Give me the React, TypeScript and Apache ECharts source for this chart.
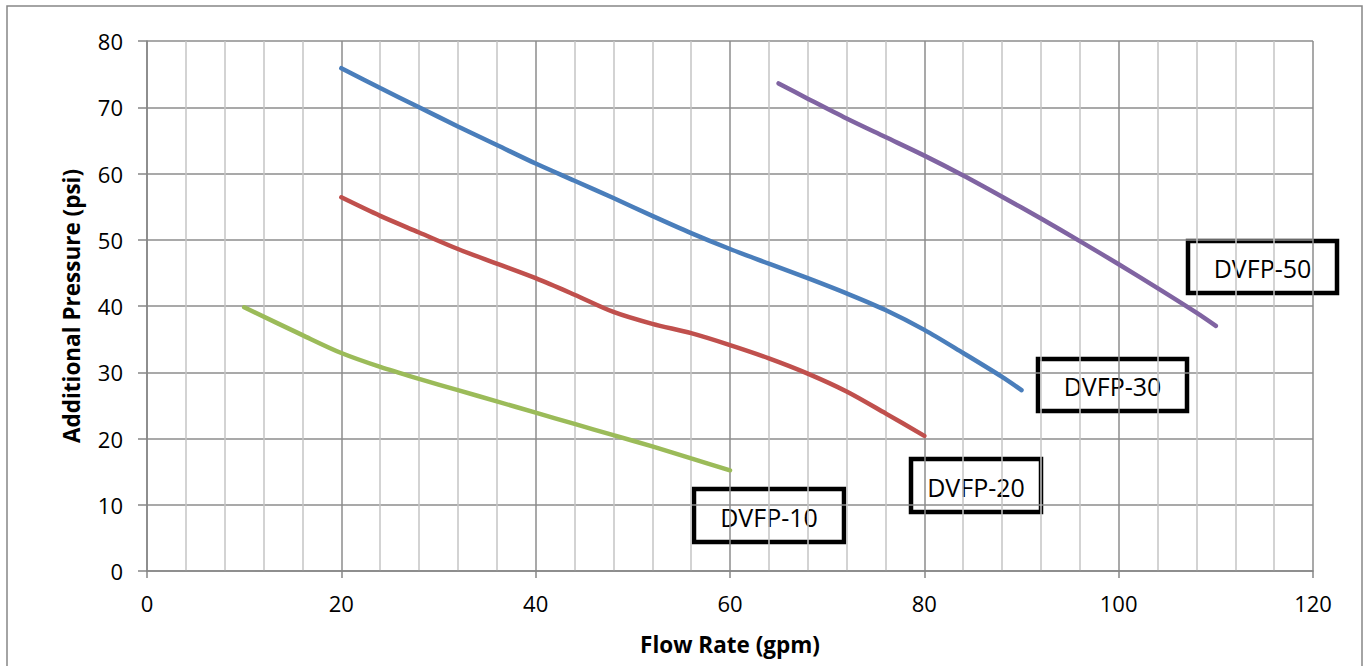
import React, { useEffect, useRef } from "react";
import * as echarts from "echarts";

const dvfp10Flow = [10, 16, 20, 24, 28, 32, 36, 40, 44, 48, 52, 56, 60];
const dvfp10Pressure = [39.8, 35.6, 32.9, 30.8, 29.0, 27.3, 25.6, 23.9, 22.2, 20.5, 18.8, 17.0, 15.2];

const dvfp20Flow = [20, 24, 28, 32, 36, 40, 44, 48, 52, 56, 60, 64, 68, 72, 76, 80];
const dvfp20Pressure = [56.4, 53.6, 51.1, 48.6, 46.4, 44.2, 41.7, 39.1, 37.3, 35.9, 34.1, 32.1, 29.8, 27.1, 23.8, 20.4];

const dvfp30Flow = [20, 24, 28, 32, 36, 40, 44, 48, 52, 56, 60, 64, 68, 72, 76, 80, 84, 88, 90];
const dvfp30Pressure = [75.9, 72.9, 70.0, 67.1, 64.3, 61.5, 58.9, 56.3, 53.6, 51.0, 48.6, 46.4, 44.2, 41.9, 39.4, 36.4, 32.9, 29.3, 27.3];

const dvfp50Flow = [65, 68, 72, 76, 80, 84, 88, 92, 96, 100, 104, 108, 110];
const dvfp50Pressure = [73.6, 71.3, 68.3, 65.5, 62.7, 59.7, 56.5, 53.2, 49.8, 46.3, 42.7, 39.0, 37.0];

const seriesNames = ["DVFP-10", "DVFP-20", "DVFP-30", "DVFP-50"];
const seriesColors = ["#9BBB59", "#C0504D", "#4A7EBB", "#8064A2"];

const xAxisTitle = "Flow Rate (gpm)";
const yAxisTitle = "Additional Pressure (psi)";

const FONT = "'Open Sans', 'Noto Sans', sans-serif";

function pairs(xs: number[], ys: number[]) {
  return xs.map((x, i) => [x, ys[i]]);
}

function labelBox(text: string, x: number, y: number, w: number, h: number) {
  return {
    type: "group",
    x,
    y,
    z: 100,
    children: [
      {
        type: "rect",
        shape: { x: 0, y: 0, width: w, height: h },
        style: { fill: "#fff", stroke: "#000", lineWidth: 4.5 },
      },
      {
        type: "text",
        x: w / 2,
        y: h / 2 + 1,
        style: {
          text,
          fill: "#000",
          font: `25px ${FONT}`,
          align: "center",
          verticalAlign: "middle",
        },
      },
    ],
  };
}

export default function App() {
  const ref = useRef<HTMLDivElement>(null);

  useEffect(() => {
    if (!ref.current) return;
    const chart = echarts.init(ref.current, undefined, { renderer: "svg" });
    const datasets = [
      pairs(dvfp10Flow, dvfp10Pressure),
      pairs(dvfp20Flow, dvfp20Pressure),
      pairs(dvfp30Flow, dvfp30Pressure),
      pairs(dvfp50Flow, dvfp50Pressure),
    ];
    chart.setOption({
      animation: false,
      backgroundColor: "#fff",
      grid: { left: 147, top: 41, right: 53, bottom: 95, containLabel: false },
      xAxis: {
        type: "value",
        min: 0,
        max: 120,
        interval: 20,
        name: xAxisTitle,
        nameLocation: "middle",
        nameGap: 62,
        nameTextStyle: { fontFamily: FONT, fontWeight: "bold", fontSize: 22.5, color: "#000" },
        axisLine: { show: true, lineStyle: { color: "#868686", width: 1.5 } },
        axisTick: { show: true, length: 7, lineStyle: { color: "#868686", width: 1.5 } },
        axisLabel: { color: "#000", fontFamily: FONT, fontSize: 22, margin: 21 },
        splitLine: { show: true, lineStyle: { color: "#8c8c8c", width: 1.5 } },
        minorTick: { show: false, splitNumber: 5 },
        minorSplitLine: { show: true, lineStyle: { color: "#c4c4c4", width: 1.5 } },
      },
      yAxis: {
        type: "value",
        min: 0,
        max: 80,
        interval: 10,
        name: yAxisTitle,
        nameLocation: "middle",
        nameGap: 64,
        nameRotate: 90,
        nameTextStyle: { fontFamily: FONT, fontWeight: "bold", fontSize: 22.5, color: "#000" },
        axisLine: { show: true, lineStyle: { color: "#868686", width: 1.5 } },
        axisTick: { show: true, inside: false, length: 9, lineStyle: { color: "#868686", width: 1.5 } },
        axisLabel: { color: "#000", fontFamily: FONT, fontSize: 22, margin: 24 },
        splitLine: { show: true, lineStyle: { color: "#8c8c8c", width: 1.5 } },
      },
      series: datasets.map((d, i) => ({
        name: seriesNames[i],
        type: "line",
        data: d,
        smooth: 0.3,
        showSymbol: false,
        symbol: "none",
        lineStyle: { color: seriesColors[i], width: 4.5, cap: "round" },
        itemStyle: { color: seriesColors[i] },
        z: 10,
      })),
      graphic: [
        {
          type: "rect",
          z: 0,
          silent: true,
          shape: { x: 7, y: 6, width: 1355, height: 700 },
          style: { fill: "none", stroke: "#868686", lineWidth: 1.5 },
        },
        labelBox("DVFP-10", 694, 489, 150, 53),
        labelBox("DVFP-20", 911, 459, 130, 53),
        labelBox("DVFP-30", 1038, 359, 149, 52),
        labelBox("DVFP-50", 1188, 241, 149, 52),
      ],
    });
    return () => chart.dispose();
  }, []);

  return (
    <div
      ref={ref}
      style={{ position: "fixed", left: 0, top: 0, width: 1366, height: 666, background: "#fff" }}
    />
  );
}
